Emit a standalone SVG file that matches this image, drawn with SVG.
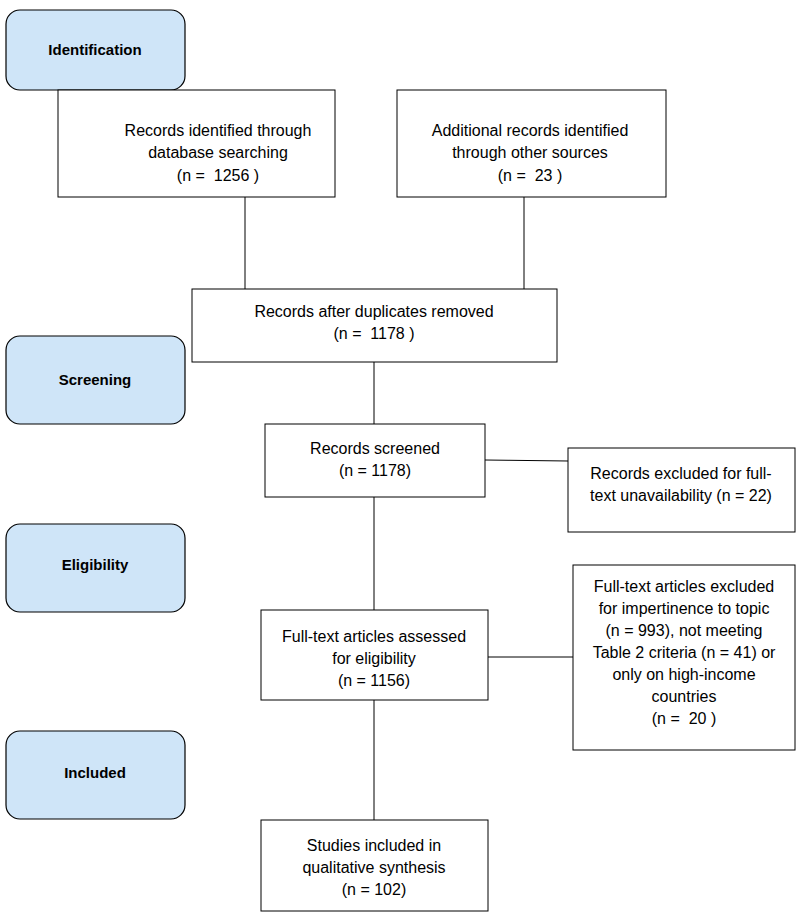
<svg xmlns="http://www.w3.org/2000/svg" width="798" height="916" viewBox="0 0 798 916">
<style>
.ph{fill:#cfe5f8;stroke:#000;stroke-width:1.2}
.bx{fill:#fff;stroke:#000;stroke-width:1}
text{font-family:"Liberation Sans",Arial,sans-serif;font-size:16px;fill:#000;text-anchor:middle}
.b{font-weight:bold;font-size:15px}
.c line{stroke:#000;stroke-width:1}
</style>
<rect width="798" height="916" fill="#fff"/>
<g id="identification"><rect class="ph" x="6" y="10" width="179" height="80" rx="14"/><text class="b" x="95" y="55">Identification</text></g>
<g id="screening"><rect class="ph" x="6" y="336" width="179" height="88" rx="14"/><text class="b" x="95" y="385">Screening</text></g>
<g id="eligibility"><rect class="ph" x="6" y="524" width="179" height="88" rx="14"/><text class="b" x="95" y="570">Eligibility</text></g>
<g id="included"><rect class="ph" x="6" y="731" width="179" height="88" rx="14"/><text class="b" x="95" y="778">Included</text></g>
<g class="c">
<line x1="245" y1="197" x2="245" y2="289"/>
<line x1="524" y1="197" x2="524" y2="289"/>
<line x1="374" y1="362" x2="374" y2="424"/>
<line x1="485" y1="460" x2="568" y2="461"/>
<line x1="374" y1="497" x2="374" y2="610"/>
<line x1="488" y1="657" x2="573" y2="657"/>
<line x1="374" y1="700" x2="374" y2="820"/>
</g>
<g id="db"><rect class="bx" x="58" y="90" width="277" height="107"/><text x="218" y="136">Records identified through</text><text x="218" y="158">database searching</text><text x="218" y="181">(n = &#160;1256 )</text></g>
<g id="other"><rect class="bx" x="397" y="90" width="269" height="107"/><text x="530" y="136">Additional records identified</text><text x="530" y="158">through other sources</text><text x="530" y="181">(n = &#160;23 )</text></g>
<g id="dup"><rect class="bx" x="192" y="289" width="365" height="73"/><text x="374" y="317">Records after duplicates removed</text><text x="374" y="339">(n = &#160;1178 )</text></g>
<g id="screened"><rect class="bx" x="265" y="424" width="220" height="73"/><text x="375" y="454">Records screened</text><text x="375" y="476">(n = 1178)</text></g>
<g id="excl1"><rect class="bx" x="568" y="448" width="227" height="84"/><text x="681" y="479">Records excluded for full-</text><text x="681" y="501">text unavailability (n = 22)</text></g>
<g id="fulltext"><rect class="bx" x="261" y="610" width="227" height="90"/><text x="374" y="642">Full-text articles assessed</text><text x="374" y="664">for eligibility</text><text x="374" y="686">(n = 1156)</text></g>
<g id="excl2"><rect class="bx" x="573" y="565" width="222" height="185"/><text x="684" y="592">Full-text articles excluded</text><text x="684" y="614">for impertinence to topic</text><text x="684" y="636">(n = 993), not meeting</text><text x="684" y="658">Table 2 criteria (n = 41) or</text><text x="684" y="680">only on high-income</text><text x="684" y="702">countries</text><text x="684" y="724">(n = &#160;20 )</text></g>
<g id="studies"><rect class="bx" x="261" y="820" width="227" height="91"/><text x="374" y="851">Studies included in</text><text x="374" y="873">qualitative synthesis</text><text x="374" y="895">(n = 102)</text></g>
</svg>
